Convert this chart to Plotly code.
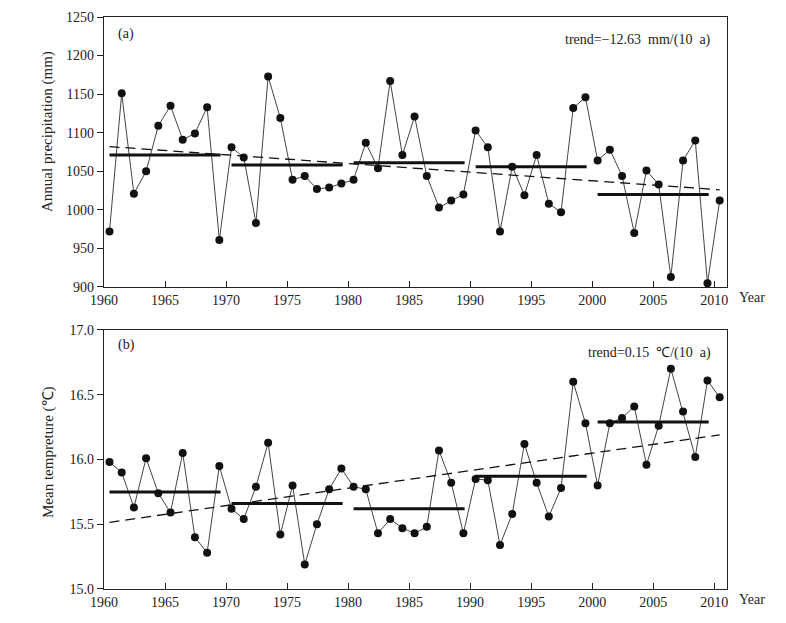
import plotly.graph_objects as go

years = list(range(1960, 2011))
precip = [972, 1151, 1021, 1050, 1109, 1135, 1091, 1099, 1133, 961,
          1081, 1068, 983, 1173, 1119, 1039, 1044, 1027, 1029, 1034,
          1039, 1087, 1054, 1167, 1071, 1121, 1044, 1003, 1012, 1020,
          1103, 1081, 972, 1056, 1019, 1071, 1008, 997, 1132, 1146,
          1064, 1078, 1044, 970, 1051, 1033, 913, 1064, 1090, 905, 1012]
temp = [15.98, 15.90, 15.63, 16.01, 15.74, 15.59, 16.05, 15.40, 15.28, 15.95,
        15.62, 15.54, 15.79, 16.13, 15.42, 15.80, 15.19, 15.50, 15.77, 15.93,
        15.79, 15.77, 15.43, 15.54, 15.47, 15.43, 15.48, 16.07, 15.82, 15.43,
        15.85, 15.84, 15.34, 15.58, 16.12, 15.82, 15.56, 15.78, 16.60, 16.28,
        15.80, 16.28, 16.32, 16.41, 15.96, 16.26, 16.70, 16.37, 16.02, 16.61, 16.48]

decade_starts = [1960, 1970, 1980, 1990, 2000]
decade_ends = [1969, 1979, 1989, 1999, 2009]
precip_means = [1071, 1058, 1061, 1056, 1020]
temp_means = [15.75, 15.66, 15.62, 15.87, 16.29]

trend_years = [1960, 2010]
precip_trend = [1082, 1026]
temp_trend = [15.515, 16.19]

x_ticks = list(range(1960, 2011, 5))
OFF = 0.45
FONT = "Liberation Serif"
INK = "#222222"

xs = [y + OFF for y in years]

fig = go.Figure()


def add_panel(vals, means, trend, xa, ya):
    fig.add_trace(go.Scatter(x=xs, y=vals, mode="lines+markers", xaxis=xa, yaxis=ya,
                             line=dict(color="#444444", width=1),
                             marker=dict(color="#111111", size=8), showlegend=False))
    for s, e, m in zip(decade_starts, decade_ends, means):
        fig.add_trace(go.Scatter(x=[s + OFF, e + 0.55], y=[m, m], mode="lines",
                                 xaxis=xa, yaxis=ya,
                                 line=dict(color="#111111", width=3), showlegend=False))
    fig.add_trace(go.Scatter(x=[t + OFF for t in trend_years], y=trend, mode="lines",
                             xaxis=xa, yaxis=ya,
                             line=dict(color="#111111", width=1.3, dash="10px,6px"),
                             showlegend=False))


add_panel(precip, precip_means, precip_trend, "x", "y")
add_panel(temp, temp_means, temp_trend, "x2", "y2")

xcommon = dict(range=[1960, 2011.05], tickvals=x_ticks, ticks="inside", ticklen=6,
               tickcolor=INK, showline=True, linecolor=INK, linewidth=1.2, mirror=True,
               showgrid=False, zeroline=False, automargin=False,
               tickfont=dict(family=FONT, size=14, color=INK))
ycommon = dict(ticks="outside", ticklen=6, tickcolor=INK, showline=True, linecolor=INK,
               linewidth=1.2, mirror=True, showgrid=False, zeroline=False, automargin=False,
               tickfont=dict(family=FONT, size=14, color=INK))

fig.update_layout(
    width=778, height=615,
    margin=dict(l=96, r=59, t=9, b=34),
    paper_bgcolor="white", plot_bgcolor="white",
    xaxis=dict(domain=[0, 1], anchor="y", **xcommon),
    yaxis=dict(domain=[0.528, 1], anchor="x", range=[900, 1250], dtick=50, **ycommon),
    xaxis2=dict(domain=[0, 1], anchor="y2", **xcommon),
    yaxis2=dict(domain=[0, 0.4528], anchor="x2", range=[15, 17], dtick=0.5, tickformat=".1f",
                **ycommon),
)

title_font = dict(family=FONT, size=15, color=INK)
fig.add_annotation(text="Annual precipitation (mm)", xref="paper", yref="paper",
                   x=-0.0899, y=0.8007, textangle=-90, xanchor="center", yanchor="middle",
                   showarrow=False, font=title_font)
fig.add_annotation(text="Mean tempreture (℃)", xref="paper", yref="paper",
                   x=-0.0899, y=0.2395, textangle=-90, xanchor="center", yanchor="middle",
                   showarrow=False, font=title_font)

ann_font = dict(family=FONT, size=14, color=INK)
fig.add_annotation(text="(a)", xref="x domain", yref="y domain", x=0.02, y=0.937,
                   xanchor="left", yanchor="middle", showarrow=False, font=ann_font)
fig.add_annotation(text="trend=−12.63\u00a0 mm/(10\u00a0 a)", xref="x domain", yref="y domain",
                   x=0.9775, y=0.915, xanchor="right", yanchor="middle", showarrow=False,
                   font=ann_font)
fig.add_annotation(text="(b)", xref="x2 domain", yref="y2 domain", x=0.02, y=0.942,
                   xanchor="left", yanchor="middle", showarrow=False, font=ann_font)
fig.add_annotation(text="trend=0.15\u00a0 ℃/(10\u00a0 a)", xref="x2 domain", yref="y2 domain",
                   x=0.9775, y=0.91, xanchor="right", yanchor="middle", showarrow=False,
                   font=ann_font)
for xr, yr in (("x domain", "y domain"), ("x2 domain", "y2 domain")):
    fig.add_annotation(text="Year", xref=xr, yref=yr, x=1, y=0, xanchor="left",
                       yanchor="top", xshift=10, yshift=-1, showarrow=False,
                       font=dict(family=FONT, size=14, color=INK))

fig.write_html("out.html")
